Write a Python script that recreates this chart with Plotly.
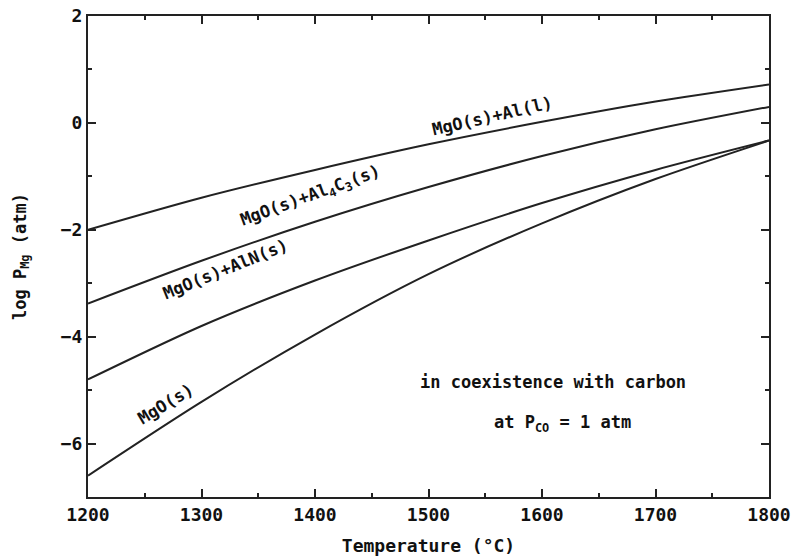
import plotly.graph_objects as go

# Temperature grid (°C)
temperature = [1200, 1300, 1400, 1500, 1600, 1700, 1800]

# log P_Mg (atm) for each condensed-phase assemblage
log_p_mgo_al_liq = [-2.00, -1.40, -0.88, -0.40, 0.02, 0.40, 0.72]
log_p_mgo_al4c3 = [-3.38, -2.58, -1.85, -1.20, -0.62, -0.12, 0.30]
log_p_mgo_aln = [-4.80, -3.80, -2.95, -2.20, -1.50, -0.88, -0.33]
log_p_mgo = [-6.60, -5.22, -3.96, -2.83, -1.88, -1.05, -0.33]

x_ticks = [1200, 1300, 1400, 1500, 1600, 1700, 1800]
y_ticks = [2, 0, -2, -4, -6]

FONT = "DejaVu Sans Mono"
INK = "#222222"
TEXT = "#111111"

fig = go.Figure()
for ys in (log_p_mgo_al_liq, log_p_mgo_al4c3, log_p_mgo_aln, log_p_mgo):
    fig.add_trace(go.Scatter(
        x=temperature, y=ys, mode="lines",
        line=dict(color=INK, width=2, shape="spline", smoothing=0.8),
        showlegend=False, hoverinfo="skip",
    ))

label_font = dict(family=FONT, size=17, color=TEXT)
labels = [
    ("<b>MgO(s)+Al(l)</b>", 1556, 0.12, -13),
    ("<b>MgO(s)+Al<sub>4</sub>C<sub>3</sub>(s)</b>", 1396, -1.38, -20),
    ("<b>MgO(s)+AlN(s)</b>", 1321, -2.74, -22),
    ("<b>MgO(s)</b>", 1268, -5.26, -31),
    ("<b>in coexistence with carbon</b>", 1610, -4.85, 0),
    ("<b>at P<sub>CO</sub> = 1 atm</b>", 1618, -5.63, 0),
]
for text, x, y, ang in labels:
    fig.add_annotation(x=x, y=y, xref="x", yref="y", text=text,
                       showarrow=False, textangle=ang, font=label_font)

axis_common = dict(
    showline=True, linecolor=INK, linewidth=2, mirror="ticks",
    ticks="inside", ticklen=8, tickwidth=1.5, tickcolor=INK,
    showgrid=False, zeroline=False, automargin=False,
    tickfont=dict(family=FONT, size=18, color=TEXT),
)

fig.update_xaxes(
    range=[1200, 1800], tickvals=x_ticks,
    ticktext=[f"<b>{v}</b>" for v in x_ticks],
    minor=dict(ticks="inside", ticklen=4, dtick=50, tick0=1200,
               tickcolor=INK, tickwidth=1.5),
    title=dict(text="<b>Temperature (°C)</b>", standoff=16,
               font=dict(family=FONT, size=18, color=TEXT)),
    **axis_common,
)
fig.update_yaxes(
    range=[-7, 2], tickvals=y_ticks,
    ticktext=[f"<b>{'−' if v < 0 else ''}{abs(v)}</b>" for v in y_ticks],
    minor=dict(ticks="inside", ticklen=4, dtick=1, tick0=-7,
               tickcolor=INK, tickwidth=1.5),
    title=dict(text="<b>log P<sub>Mg</sub> (atm)</b>", standoff=30,
               font=dict(family=FONT, size=17, color=TEXT)),
    **axis_common,
)

fig.update_layout(
    width=794, height=560,
    margin=dict(l=88, r=25, t=16, b=63),
    paper_bgcolor="white", plot_bgcolor="white",
)

fig.write_html("out.html")
